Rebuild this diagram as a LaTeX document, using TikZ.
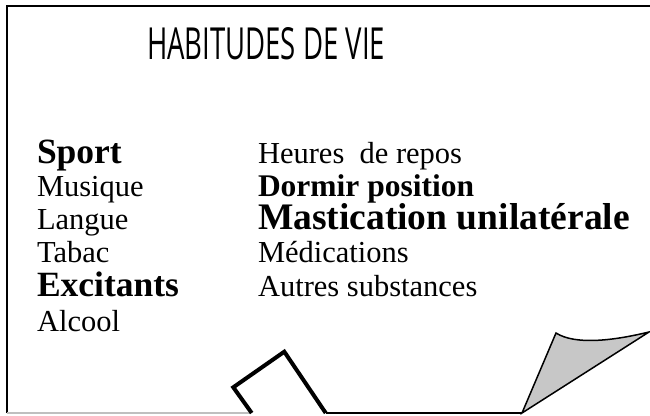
\documentclass[tikz,border=0pt]{standalone}
\usepackage{fontspec}
\setmainfont{Liberation Serif}
\newfontfamily\titlefont{Open Sans}
\tikzset{
  txt/.style={anchor=base west, inner sep=0pt, outer sep=0pt, font=\fontsize{30.5}{30.5}\selectfont},
  bigtxt/.style={anchor=base west, inner sep=0pt, outer sep=0pt, font=\fontsize{35.5}{35.5}\selectfont\bfseries},
  hugetxt/.style={anchor=base west, inner sep=0pt, outer sep=0pt, font=\fontsize{37.5}{37.5}\selectfont\bfseries},
  midtxt/.style={anchor=base west, inner sep=0pt, outer sep=0pt, font=\fontsize{31.5}{31.5}\selectfont\bfseries},
  frameline/.style={line width=1.5pt, black},
  boxline/.style={line width=4pt, black, line join=miter},
  curl/.style={line width=1.5pt, black, fill=black!22, line join=miter}
}
\begin{document}
\begin{tikzpicture}[x=1pt,y=-1pt]
\useasboundingbox (0,0) rectangle (650,415);
% frame
\coordinate (tl) at (7,6);
\coordinate (tr) at (650,6);
\coordinate (bl) at (7,413);
\coordinate (bg) at (251,413);
\coordinate (bb) at (326,413);
\coordinate (cb) at (522,413);
\draw[frameline] (bl) -- (tl) -- (tr);
\draw[line width=1.2pt, black!25] (bl) -- (bg);
\draw[frameline] (bb) -- (cb);
% title
\node[anchor=base, inner sep=0pt] (title) at (266,59) {\resizebox{238pt}{32pt}{\titlefont\fontsize{30}{30}\selectfont HABITUDES DE VIE}};
% left column
\node[bigtxt] (sport) at (37,163) {Sport};
\node[txt] (musique) at (37,196) {Musique};
\node[txt] (langue) at (37,229) {Langue};
\node[txt] (tabac) at (37,262) {Tabac};
\node[bigtxt] (excit) at (37,296) {Excitants};
\node[txt] (alcool) at (37,331) {Alcool};
% right column
\node[txt] (heures) at (258,163) {Heures\ \ de repos};
\node[midtxt] (dormir) at (258,196) {Dormir position};
\node[hugetxt] (mastic) at (258,229) {Mastication unilatérale};
\node[txt] (medic) at (258,262) {Médications};
\node[txt] (autres) at (258,296) {Autres substances};
% tilted box
\coordinate (b1) at (251.7,413);
\coordinate (b2) at (233.3,387.3);
\coordinate (b3) at (284.3,351.7);
\coordinate (b4) at (325.7,413);
\draw[boxline] (b1) -- (b2) -- (b3) -- (b4);
% curled corner
\coordinate (c1) at (556,333);
\coordinate (c2) at (649,332);
\draw[curl] (cb) -- (c1) .. controls (575,345) and (612,341) .. (c2) -- cycle;
\end{tikzpicture}
\end{document}
